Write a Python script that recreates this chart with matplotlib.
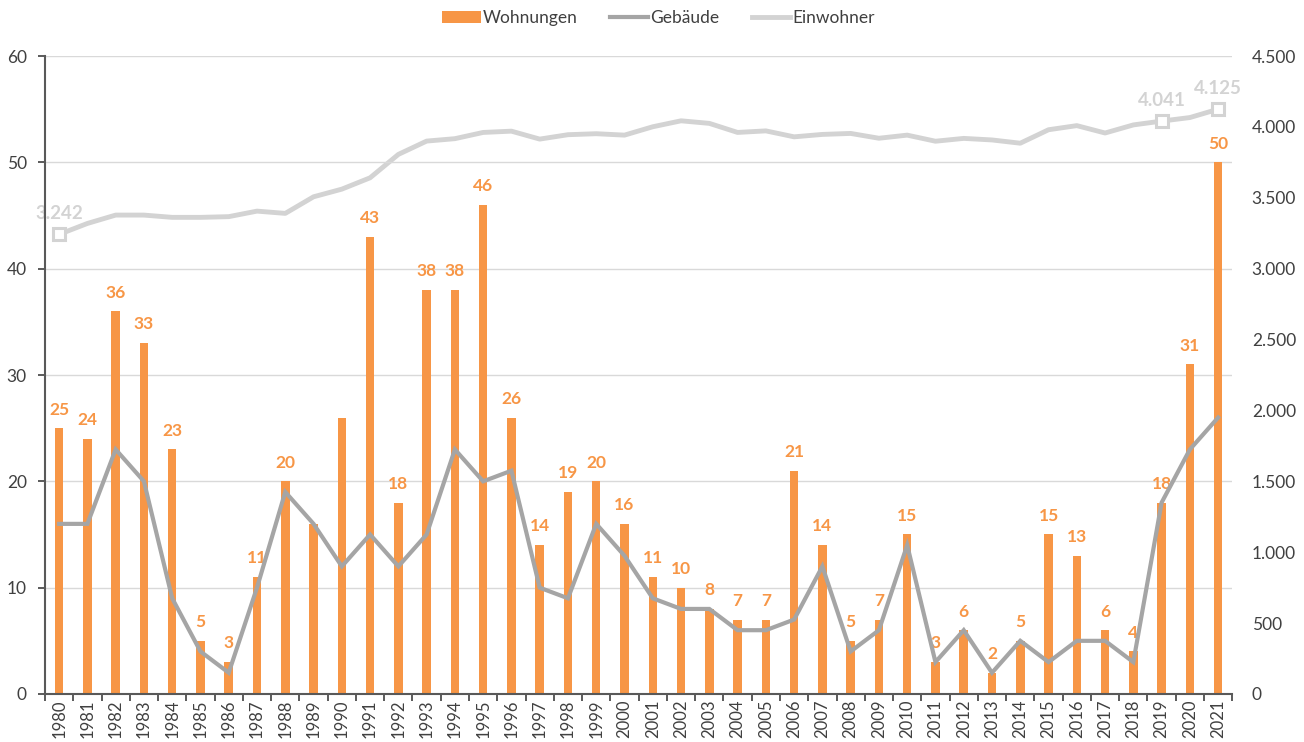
import numpy as np
import matplotlib
matplotlib.use("Agg")
import matplotlib.pyplot as plt
from matplotlib.ticker import FuncFormatter, FixedLocator

plt.rcParams['font.family'] = ['Lato', 'DejaVu Sans']

years = list(range(1980, 2022))
wohnungen = [25, 24, 36, 33, 23, 5, 3, 11, 20, 16, 26, 43, 18, 38, 38, 46, 26, 14, 19, 20,
             16, 11, 10, 8, 7, 7, 21, 14, 5, 7, 15, 3, 6, 2, 5, 15, 13, 6, 4, 18, 31, 50]
gebaeude = [16, 16, 23, 20, 9, 4, 2, 10, 19, 16, 12, 15, 12, 15, 23, 20, 21, 10, 9, 16,
            13, 9, 8, 8, 6, 6, 7, 12, 4, 6, 14, 3, 6, 2, 5, 3, 5, 5, 3, 18, 23, 26]
einwohner = [3242, 3319, 3378, 3378, 3362, 3362, 3367, 3406, 3390, 3507, 3561, 3641, 3806, 3900,
             3917, 3961, 3970, 3914, 3945, 3952, 3942, 4001, 4043, 4025, 3961, 3972, 3930, 3947,
             3954, 3920, 3942, 3899, 3919, 3908, 3885, 3980, 4009, 3957, 4014, 4041, 4066, 4125]
# bars without a value label in the original
no_label_years = [1989, 1990]
# Einwohner points that carry a marker and label
einw_marked_years = [1980, 2019, 2021]

orange = '#F79646'
grey_dark = '#A5A5A5'
grey_light = '#D3D3D3'
text_col = '#404040'

fig = plt.figure(figsize=(13.04, 7.42), dpi=100)
ax = fig.add_axes([0.0345, 0.0647, 0.9105, 0.8598])
ax2 = ax.twinx()

x = np.arange(len(years))

bars = ax.bar(x, wohnungen, width=0.3, color=orange, zorder=2, label='Wohnungen')
for xi, yr, v in zip(x, years, wohnungen):
    if yr in no_label_years:
        continue
    ax.text(xi, v + 1.0, str(v), ha='center', va='bottom', color=orange,
            fontsize=12.5, fontweight='bold', zorder=3)

geb_line, = ax.plot(x, gebaeude, color=grey_dark, lw=3, zorder=4, label='Gebäude',
                    solid_joinstyle='miter')

einw_line, = ax2.plot(x, einwohner, color=grey_light, lw=3.5, zorder=4, label='Einwohner')
for xi, yr, v in zip(x, years, einwohner):
    if yr in einw_marked_years:
        ax2.plot(xi, v, marker='s', ms=9, mfc='white', mec=grey_light, mew=2.2, zorder=5)
        ax2.text(xi, v + 85, f'{v:,}'.replace(',', '.'), ha='center', va='bottom',
                 color=grey_light, fontsize=13.5, fontweight='bold')

ax.set_xlim(-0.5, len(years) - 0.5)
ax.set_ylim(0, 60)
ax.set_yticks(range(0, 61, 10))
ax2.set_ylim(0, 4500)
ax2.set_yticks(range(0, 4501, 500))
ax2.yaxis.set_major_formatter(FuncFormatter(lambda v, p: f'{int(v):,}'.replace(',', '.')))

ax.set_xticks(x)
ax.set_xticklabels([str(y) for y in years], rotation=90)
ax.xaxis.set_minor_locator(FixedLocator(np.arange(-0.5, len(years), 1.0)))
ax.tick_params(axis='x', which='major', length=0, pad=4, labelsize=12, labelcolor=text_col)
ax.tick_params(axis='x', which='minor', length=5, width=1.2, color='#404040')
ax.tick_params(axis='y', length=5, width=1.2, color='#404040', labelsize=12.5,
               labelcolor=text_col, pad=8)
ax2.tick_params(axis='y', length=0, pad=14, labelsize=12.5, labelcolor=text_col)

ax.yaxis.grid(True, color='#D9D9D9', lw=1)
ax.set_axisbelow(True)

for s in ['top', 'right']:
    ax.spines[s].set_visible(False)
for s in ['top', 'right', 'left', 'bottom']:
    ax2.spines[s].set_visible(False)
ax.spines['left'].set_color('#595959')
ax.spines['left'].set_linewidth(1.5)
ax.spines['bottom'].set_color('#595959')
ax.spines['bottom'].set_linewidth(1.5)

ax.set_zorder(ax2.get_zorder() + 1)
ax.patch.set_visible(False)

fig.legend([bars, geb_line, einw_line], ['Wohnungen', 'Gebäude', 'Einwohner'],
           loc='upper center', bbox_to_anchor=(0.505, 1.008), ncol=3,
           frameon=False, fontsize=12.5, handlelength=2.2, handletextpad=0.1,
           columnspacing=1.9, labelcolor=text_col)

fig.savefig('out.png', dpi=100)
